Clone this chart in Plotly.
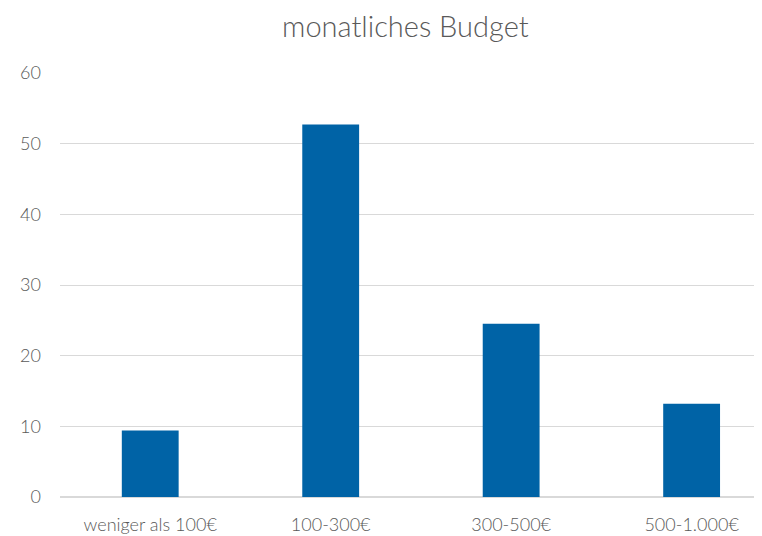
import plotly.graph_objects as go

# monatliches Budget
categories = ['weniger als 100€', '100-300€', '300-500€', '500-1.000€']
values = [9.4, 52.7, 24.5, 13.2]
y_ticks = [0, 10, 20, 30, 40, 50, 60]

fig = go.Figure()
fig.add_trace(go.Bar(x=categories, y=values, marker_color='#0063a6',
                     marker_line_width=0, width=0.315))

# page body has an 8px margin, so the figure is offset by 8px
fig.update_layout(
    width=754, height=528,
    margin=dict(l=52, r=0, t=65, b=39),
    paper_bgcolor='white', plot_bgcolor='white',
    font=dict(family='Lato', color='#595959', size=18, weight=300),
    title=dict(text='monatliches Budget', x=0.527, xanchor='center', y=0.964, yanchor='middle',
               font=dict(size=29, color='#595959', weight=300)),
    showlegend=False,
)
fig.update_xaxes(range=[-0.5, 3.39], showgrid=False, showline=False, ticks='',
                 ticklabelstandoff=15, tickfont=dict(size=18))
fig.update_yaxes(range=[0, 60], tickvals=y_ticks, gridcolor='#d9d9d9', gridwidth=1,
                 zeroline=True, zerolinecolor='#d9d9d9', zerolinewidth=1.5,
                 ticklabelstandoff=18, tickfont=dict(size=18))

fig.write_html("out.html")
